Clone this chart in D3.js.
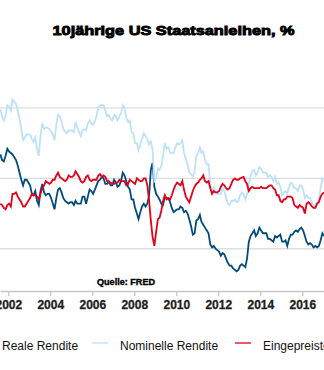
<!DOCTYPE html>
<html>
<head>
<meta charset="utf-8">
<script src="https://cdn.jsdelivr.net/npm/d3@7"></script>
<style>
  html, body { margin: 0; padding: 0; background: #fff; }
  svg { display: block; }
</style>
</head>
<body>
<svg id="chart" width="324" height="370"></svg>
<script>
// 10-year US Treasury yields, monthly, Aug 2001 – Jan 2017 (percent)
const firstMonth = new Date(2001, 7, 1);
const endMonth = new Date(2017, 1, 1);

// Reale Rendite (10y TIPS yield)
const realYield = [
  3.35, 3.15, 3.10, 3.30, 3.55,
  3.45, 3.40, 3.35, 3.25, 3.15, 2.95, 2.70, 2.45, 2.25, 2.45, 2.45, 2.35,
  2.25, 1.95, 1.90, 2.05, 1.70, 1.55, 2.05, 2.30, 2.00, 1.90, 1.95, 1.95,
  1.80, 1.60, 1.40, 1.80, 2.10, 2.15, 2.00, 1.80, 1.70, 1.65, 1.60, 1.65,
  1.65, 1.55, 1.70, 1.60, 1.60, 1.60, 1.85, 1.85, 1.60, 1.85, 2.10, 2.05,
  1.95, 2.10, 2.25, 2.40, 2.45, 2.55, 2.50, 2.30, 2.30, 2.40, 2.25, 2.25,
  2.45, 2.35, 2.20, 2.25, 2.40, 2.70, 2.60, 2.40, 2.20, 2.10, 1.75, 1.75,
  1.45, 1.25, 1.05, 1.30, 1.50, 1.60, 1.50, 1.60, 1.90, 2.80, 3.05, 2.20,
  1.95, 1.85, 1.75, 1.60, 1.55, 1.85, 1.80, 1.80, 1.65, 1.45, 1.30, 1.35,
  1.40, 1.40, 1.50, 1.45, 1.30, 1.35, 1.25, 1.05, 0.80, 0.50, 0.55, 1.00,
  1.05, 1.20, 0.95, 0.85, 0.75, 0.65, 0.55, 0.15, 0.05, 0.10, 0.00, -0.05,
  -0.10, -0.25, -0.15, -0.20, -0.35, -0.50, -0.60, -0.60, -0.70, -0.75, -0.80, -0.75,
  -0.60, -0.55, -0.60, -0.65, -0.35, 0.25, 0.45, 0.55, 0.65, 0.45, 0.55, 0.75,
  0.65, 0.55, 0.55, 0.55, 0.35, 0.35, 0.30, 0.25, 0.45, 0.40, 0.45, 0.50,
  0.25, 0.25, 0.30, 0.10, 0.35, 0.50, 0.50, 0.60, 0.65, 0.60, 0.70, 0.75,
  0.65, 0.45, 0.25, 0.15, 0.20, 0.15, 0.05, 0.10, 0.05, 0.10, 0.30, 0.55,
  0.45
];

// Nominelle Rendite (10y Treasury yield)
const nominalYield = [
  4.95, 4.70, 4.55, 4.70, 5.10,
  5.05, 4.90, 5.30, 5.20, 5.15, 4.90, 4.60, 4.25, 3.85, 3.95, 4.05, 4.05,
  4.05, 3.90, 3.80, 3.95, 3.55, 3.30, 4.00, 4.45, 4.25, 4.30, 4.30, 4.25,
  4.15, 4.05, 3.85, 4.40, 4.75, 4.70, 4.50, 4.25, 4.15, 4.10, 4.20, 4.20,
  4.20, 4.15, 4.50, 4.30, 4.15, 4.00, 4.20, 4.25, 4.20, 4.45, 4.55, 4.45,
  4.40, 4.55, 4.70, 5.00, 5.10, 5.10, 5.10, 4.90, 4.70, 4.75, 4.60, 4.55,
  4.75, 4.70, 4.55, 4.70, 4.80, 5.10, 5.00, 4.65, 4.50, 4.55, 4.15, 4.10,
  3.75, 3.75, 3.50, 3.70, 3.90, 4.10, 4.00, 3.90, 3.70, 3.80, 3.50, 2.40,
  2.50, 2.85, 2.80, 2.95, 3.30, 3.75, 3.55, 3.60, 3.40, 3.40, 3.40, 3.60,
  3.75, 3.70, 3.75, 3.85, 3.40, 3.20, 3.00, 2.70, 2.65, 2.55, 2.75, 3.30,
  3.40, 3.60, 3.40, 3.45, 3.15, 3.00, 3.00, 2.30, 2.00, 2.15, 2.00, 1.95,
  1.95, 1.95, 2.15, 2.05, 1.80, 1.60, 1.55, 1.70, 1.70, 1.75, 1.65, 1.70,
  1.90, 1.98, 1.95, 1.75, 1.95, 2.30, 2.60, 2.75, 2.80, 2.60, 2.70, 2.90,
  2.85, 2.70, 2.70, 2.70, 2.55, 2.60, 2.55, 2.40, 2.55, 2.30, 2.35, 2.20,
  1.90, 2.00, 2.05, 1.95, 2.20, 2.35, 2.30, 2.15, 2.15, 2.05, 2.25, 2.25,
  2.10, 1.80, 1.90, 1.80, 1.80, 1.65, 1.50, 1.55, 1.65, 1.75, 2.15, 2.50,
  2.45
];

// Eingepreiste Inflation (10y breakeven inflation)
const breakeven = [
  1.60, 1.55, 1.45, 1.40, 1.55,
  1.60, 1.50, 1.95, 1.95, 2.00, 1.85, 1.75, 1.65, 1.50, 1.50, 1.60, 1.70,
  1.80, 1.95, 1.90, 1.90, 1.85, 1.75, 1.95, 2.15, 2.25, 2.40, 2.35, 2.30,
  2.35, 2.45, 2.45, 2.60, 2.70, 2.55, 2.50, 2.45, 2.40, 2.45, 2.60, 2.55,
  2.55, 2.60, 2.75, 2.65, 2.55, 2.40, 2.35, 2.40, 2.55, 2.60, 2.45, 2.40,
  2.45, 2.45, 2.45, 2.60, 2.65, 2.55, 2.60, 2.55, 2.40, 2.35, 2.35, 2.30,
  2.30, 2.35, 2.35, 2.45, 2.40, 2.40, 2.40, 2.25, 2.30, 2.45, 2.40, 2.35,
  2.30, 2.50, 2.45, 2.40, 2.40, 2.50, 2.50, 2.25, 1.70, 1.00, 0.40, 0.10,
  0.60, 1.05, 1.10, 1.35, 1.70, 1.90, 1.75, 1.80, 1.75, 1.90, 2.10, 2.25,
  2.35, 2.30, 2.25, 2.40, 2.10, 1.85, 1.75, 1.65, 1.85, 2.05, 2.20, 2.30,
  2.35, 2.45, 2.50, 2.60, 2.40, 2.35, 2.40, 2.15, 1.95, 2.05, 2.00, 2.00,
  2.05, 2.20, 2.30, 2.25, 2.15, 2.10, 2.15, 2.30, 2.45, 2.50, 2.45, 2.45,
  2.50, 2.53, 2.55, 2.40, 2.30, 2.05, 2.15, 2.20, 2.15, 2.15, 2.15, 2.15,
  2.20, 2.15, 2.15, 2.15, 2.20, 2.25, 2.25, 2.15, 2.10, 1.90, 1.90, 1.70,
  1.65, 1.75, 1.75, 1.85, 1.85, 1.85, 1.80, 1.55, 1.50, 1.45, 1.55, 1.50,
  1.45, 1.25, 1.60, 1.65, 1.60, 1.50, 1.45, 1.45, 1.60, 1.65, 1.85, 1.95,
  2.00
];

const seriesNames = ["Reale Rendite", "Nominelle Rendite", "Eingepreiste Inflation"];
const seriesColors = ["#004b7d", "#bde2f8", "#e2001a"];
const gridValues = [0, 2.5, 5];

const title = "10jährige US Staatsanleihen, %";
const source = "Quelle: FRED";

const W = 324, H = 370;
const svg = d3.select("#chart");
const font = "'Liberation Sans', Arial, sans-serif";

// monthly observations, placed mid-month
const months = d3.timeMonth.range(firstMonth, endMonth).map(d => d3.timeDay.offset(d, 14));

// time scale: even-year ticks fall at fixed spacing, extended to the full width
const x = d3.scaleTime()
  .domain([new Date(2002, 0, 1), new Date(2016, 0, 1)])
  .range([8.3, 302.3]);
x.domain([x.invert(0), x.invert(W)]).range([0, W]);

const y = d3.scaleLinear().domain([-1.5, 5]).range([291, 107.9]);

// gridlines
svg.append("g")
  .selectAll("line")
  .data(gridValues)
  .join("line")
  .attr("x1", 0).attr("x2", W)
  .attr("y1", d => y(d)).attr("y2", d => y(d))
  .attr("stroke", "#dedede")
  .attr("stroke-width", 1.3);

// series lines
const allSeries = [realYield, nominalYield, breakeven];
const line = d3.line()
  .x((d, i) => x(months[i]))
  .y(d => y(d));

svg.append("g")
  .selectAll("path")
  .data(allSeries)
  .join("path")
  .attr("d", d => line(d))
  .attr("fill", "none")
  .attr("stroke", (d, i) => seriesColors[i])
  .attr("stroke-width", 1.8)
  .attr("stroke-linejoin", "miter");

// x axis
const xAxis = d3.axisBottom(x)
  .ticks(d3.timeYear.every(2))
  .tickFormat(d3.timeFormat("%Y"))
  .tickSizeInner(5)
  .tickSizeOuter(0)
  .tickPadding(4);

const gx = svg.append("g")
  .attr("transform", `translate(0,${y(-1.5)})`)
  .call(xAxis);
gx.select(".domain").attr("stroke", "#c8c8c8").attr("stroke-width", 1.5);
gx.selectAll(".tick line").attr("stroke", "#c8c8c8").attr("stroke-width", 1.3);
gx.selectAll(".tick text")
  .attr("fill", "#1e1e1e")
  .attr("stroke", "#1e1e1e").attr("stroke-width", 0.3)
  .style("font-family", font)
  .style("font-size", "12px")
  .style("font-weight", "bold");

// title
svg.append("text")
  .attr("x", 52.5).attr("y", 34.5)
  .attr("textLength", 242)
  .attr("lengthAdjust", "spacingAndGlyphs")
  .attr("fill", "#000")
  .attr("stroke", "#000").attr("stroke-width", 0.9)
  .style("font-family", font)
  .style("font-size", "13.5px")
  .style("font-weight", "bold")
  .text(title);

// source note
svg.append("text")
  .attr("x", 97).attr("y", 284.5)
  .attr("textLength", 58)
  .attr("lengthAdjust", "spacingAndGlyphs")
  .attr("fill", "#000")
  .attr("stroke", "#000").attr("stroke-width", 0.35)
  .style("font-family", font)
  .style("font-size", "8.5px")
  .style("font-weight", "bold")
  .text(source);

// legend
const legendX = [2, 120, 263];
const legend = svg.append("g")
  .selectAll("g")
  .data(seriesNames)
  .join("g")
  .attr("transform", (d, i) => `translate(${legendX[i]},0)`);

legend.append("line")
  .attr("x1", -28).attr("x2", -12)
  .attr("y1", 343).attr("y2", 343)
  .attr("stroke", (d, i) => seriesColors[i])
  .attr("stroke-width", 1.3);

legend.append("text")
  .attr("x", 0).attr("y", 349.5)
  .attr("fill", "#111")
  .style("font-family", font)
  .style("font-size", "12px")
  .text(d => d);
</script>
</body>
</html>
